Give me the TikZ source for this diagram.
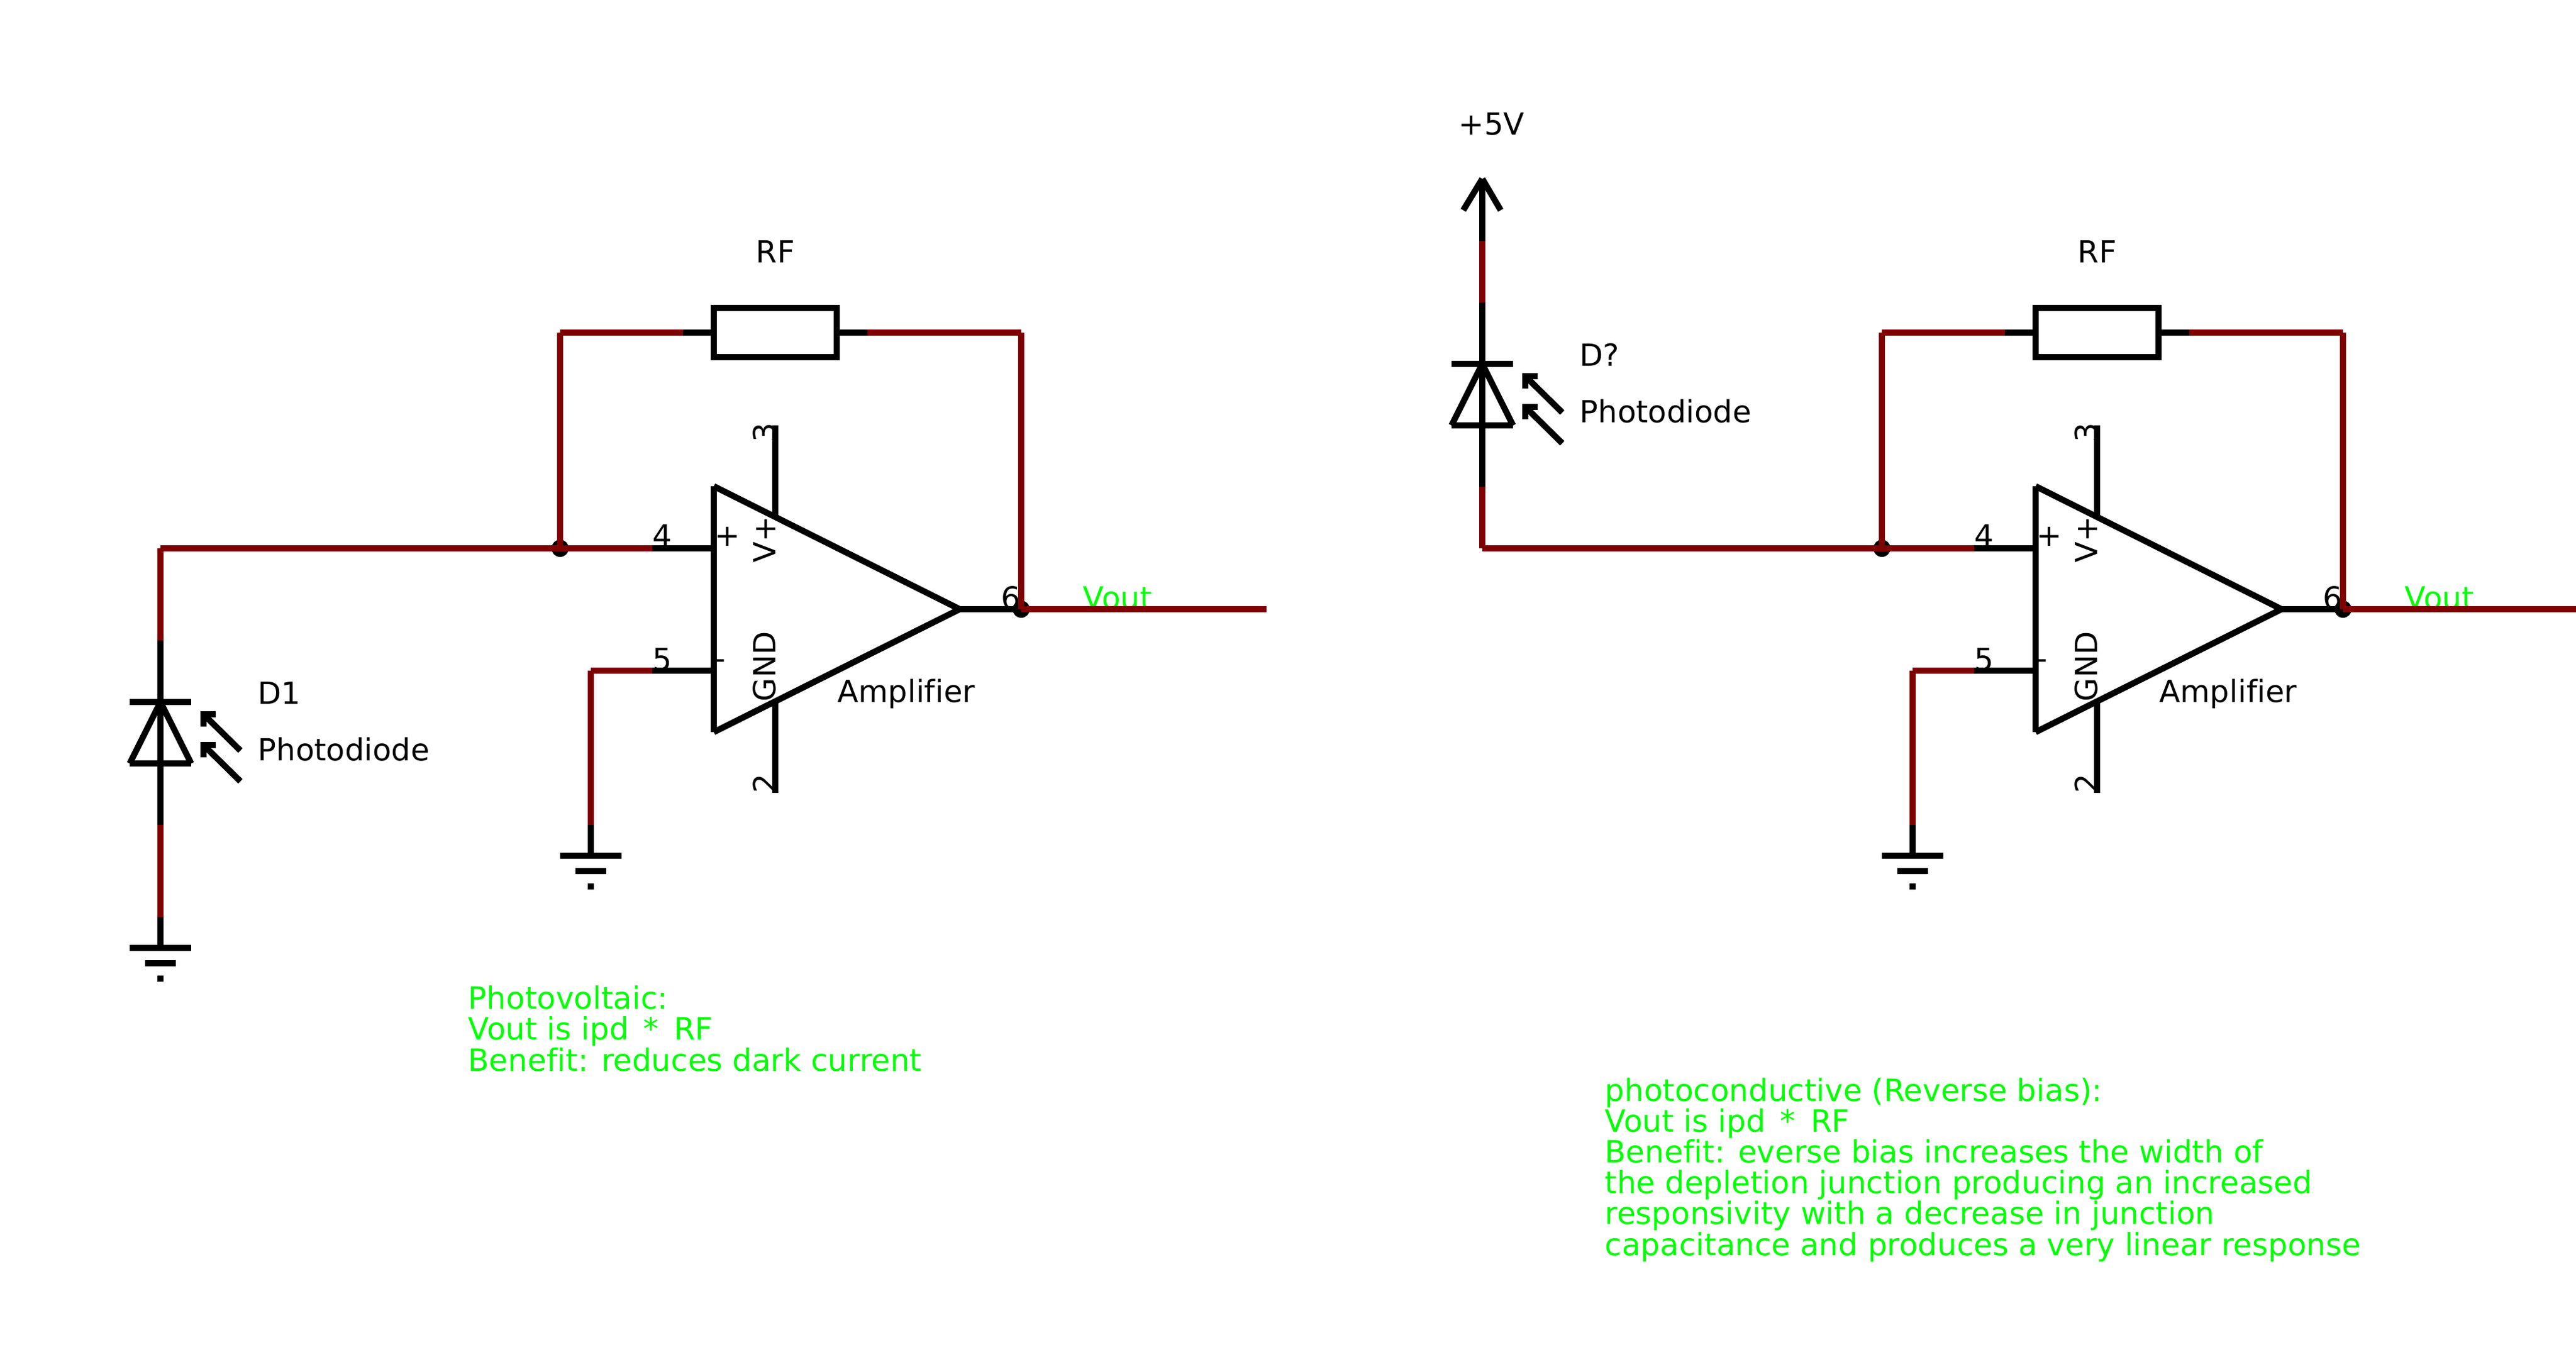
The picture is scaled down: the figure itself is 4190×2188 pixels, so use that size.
\documentclass[tikz,border=0pt]{standalone}
\usepackage{fontspec}
\setmainfont[Ligatures=CommonOff]{DejaVu Sans}
\usepackage{tikz}
\definecolor{wirered}{HTML}{7F0000}
\definecolor{notegreen}{HTML}{00FF00}
\tikzset{
  part/.style={draw=black, line width=0.1cm},
  wire/.style={draw=wirered, line width=0.1cm},
  lbl/.style={anchor=base west, inner sep=0pt, font=\fontsize{14.1}{14.23}\selectfont},
  pinlbl/.style={lbl, rotate=90},
  note/.style={lbl, text=notegreen, align=left, font=\fontsize{14.2}{14.23}\selectfont},
  dot/.style={circle, fill=black, inner sep=0pt, minimum size=0.28cm},
  resbox/.style={part, rectangle, inner sep=0pt, outer sep=0pt, minimum width=2cm, minimum height=0.8cm},
  gnd/.pic={
    \coordinate (-t) at (0,-50);
    \path [part] (-t) edge (0,0);
    \path [part] (-50,0) edge (50,0);
    \path [part] (-25,25) edge (25,25);
    \path [part] (-5,50) edge (5,50);
  },
  photodiode/.pic={
    \coordinate (-t) at (0,-100);
    \coordinate (-b) at (0,200);
    \path [part] (-t) edge (-b);
    \path [part] (-50,0) edge (50,0);
    \path [part] (-50,100) edge (50,100);
    \path [part] (0,0) edge (-50,100);
    \path [part] (0,0) edge (50,100);
    \path [part] (130,79) edge (70,20);
    \path [part] (70,20) edge (90,20);
    \path [part] (70,15) edge (70,40);
    \path [part] (130,129) edge (70,70);
    \path [part] (70,70) edge (90,70);
    \path [part] (70,65) edge (70,90);
  },
  opamp/.pic={
    \coordinate (-p) at (-100,-99);
    \coordinate (-m) at (-100,100);
    \coordinate (-o) at (500,0);
    \node [lbl] (-n4) at (-100,-102) {4};
    \node [lbl] (-n5) at (-100,99) {5};
    \node [lbl] (-n6) at (467,-1) {6};
    \node [lbl] (-plus) at (1,-103) {+};
    \node [lbl] (-minus) at (1,97) {-};
    \node [pinlbl] (-n3) at (100,-271) {3};
    \node [pinlbl] (-vp) at (100,-75) {V+};
    \node [pinlbl] (-g) at (100,151) {GND};
    \node [pinlbl] (-n2) at (100,300) {2};
    \node [lbl] (-name) at (201,151) {Amplifier};
    \path [part] (0,-200) edge (0,200);
    \path [part] (0,-200) edge (400,0);
    \path [part] (0,200) edge (400,0);
    \path [part] (-p) edge (0,-99);
    \path [part] (-m) edge (0,100);
    \path [part] (400,0) edge (-o);
    \path [part] (100,-299) edge (100,-150);
    \path [part] (100,150) edge (100,299);
  }
}
\begin{document}
\begin{tikzpicture}[x=0.01cm, y=-0.01cm]
\useasboundingbox (0,0) rectangle (4190,2188);
% photovoltaic
\pic (d1) at (261,1142) {photodiode};
\pic (g1) at (261,1542) {gnd};
\pic (g2) at (961,1392) {gnd};
\pic (u1) at (1161,991) {opamp};
\node [resbox] (r1) at (1261,541) {};
\coordinate (r1l) at (1111,541);
\coordinate (r1r) at (1411,541);
\path [part] (r1l) edge (r1.west);
\path [part] (r1.east) edge (r1r);
\node [lbl] (r1name) at (1229,427) {RF};
\node [lbl] (d1name) at (419,1145) {D1};
\node [lbl] (d1val) at (419,1237) {Photodiode};
\node [note] (vo1) at (1761,990) {Vout};
\node [note] (txt1) at (761,1742) {Photovoltaic:\\Vout is ipd \,*\, RF\\Benefit: reduces dark current};
\node [dot] (j1) at (911,892) {};
\node [dot] (j2) at (1661,991) {};
\coordinate (c1) at (261,892);
\coordinate (c2) at (911,541);
\coordinate (c3) at (1661,541);
\coordinate (c4) at (961,1091);
\coordinate (e1) at (2060,991);
\path [wire] (c1) edge (j1.center);
\path [wire] (j1.center) edge (u1-p);
\path [wire] (j1.center) edge (c2);
\path [wire] (c2) edge (r1l);
\path [wire] (r1r) edge (c3);
\path [wire] (c3) edge (j2.center);
\path [wire] (u1-o) edge (e1);
\path [wire] (c1) edge (d1-t);
\path [wire] (d1-b) edge (g1-t);
\path [wire] (u1-m) edge (c4);
\path [wire] (c4) edge (g2-t);
% photoconductive
\pic (d2) at (2411,592) {photodiode};
\pic (g3) at (3111,1392) {gnd};
\pic (u2) at (3311,991) {opamp};
\node [resbox] (r2) at (3411,541) {};
\coordinate (r2l) at (3261,541);
\coordinate (r2r) at (3561,541);
\path [part] (r2l) edge (r2.west);
\path [part] (r2.east) edge (r2r);
\node [lbl] (r2name) at (3379,427) {RF};
\node [lbl] (d2name) at (2569,595) {D?};
\node [lbl] (d2val) at (2569,687) {Photodiode};
\node [lbl] (vcc) at (2372,220) {+5V};
\coordinate (p1) at (2411,291);
\coordinate (p2) at (2411,392);
\path [part] (p1) edge (p2);
\path [part] (p1) edge (2380,342);
\path [part] (p1) edge (2441,342);
\node [note] (vo2) at (3911,990) {Vout};
\node [note] (txt2) at (2610,2042) {photoconductive (Reverse bias):\\Vout is ipd \,*\, RF\\Benefit: everse bias increases the width of\\the depletion junction producing an increased\\responsivity with a decrease in junction\\capacitance and produces a very linear response};
\node [dot] (j3) at (3061,892) {};
\node [dot] (j4) at (3811,991) {};
\coordinate (c5) at (2411,892);
\coordinate (c6) at (3061,541);
\coordinate (c7) at (3811,541);
\coordinate (c8) at (3111,1091);
\coordinate (e2) at (4190,991);
\path [wire] (c5) edge (j3.center);
\path [wire] (j3.center) edge (u2-p);
\path [wire] (j3.center) edge (c6);
\path [wire] (c6) edge (r2l);
\path [wire] (r2r) edge (c7);
\path [wire] (c7) edge (j4.center);
\path [wire] (u2-o) edge (e2);
\path [wire] (p2) edge (d2-t);
\path [wire] (d2-b) edge (c5);
\path [wire] (u2-m) edge (c8);
\path [wire] (c8) edge (g3-t);
\end{tikzpicture}
\end{document}
